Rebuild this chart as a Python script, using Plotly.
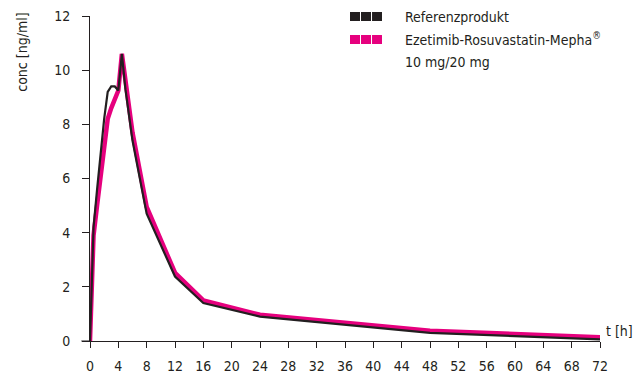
import plotly.graph_objects as go

# Data
t_hours = [0, 0.5, 1, 1.5, 2, 2.5, 3, 3.5, 4, 4.5, 5, 6, 8, 12, 16, 24, 48, 72]
referenz = [0, 4.2, 5.6, 6.9, 8.2, 9.2, 9.4, 9.4, 9.25, 10.6, 9.3, 7.4, 4.7, 2.38, 1.4, 0.9, 0.3, 0.06]
mepha = [0, 3.9, 5.0, 6.1, 7.4, 8.2, 8.6, 8.95, 9.25, 10.6, 9.6, 7.7, 4.95, 2.52, 1.5, 0.97, 0.38, 0.14]
x_ticks = list(range(0, 73, 4))
y_ticks = list(range(0, 13, 2))
series_names = ["Referenzprodukt", "Ezetimib-Rosuvastatin-Mepha<sup>®</sup>"]
series_sub = "10 mg/20 mg"

BLACK = "#231F20"
MAGENTA = "#E6007E"
FONT = "Liberation Sans Narrow, Arial Narrow, DejaVu Sans Condensed, sans-serif"

fig = go.Figure()
fig.add_trace(go.Scatter(x=t_hours, y=mepha, mode="lines",
                         line=dict(color=MAGENTA, width=4.5), showlegend=False))
fig.add_trace(go.Scatter(x=t_hours, y=referenz, mode="lines",
                         line=dict(color=BLACK, width=2.2), showlegend=False))

fig.update_layout(
    width=634, height=374,
    margin=dict(l=90, r=34, t=16, b=33, autoexpand=False),
    paper_bgcolor="white", plot_bgcolor="white",
    font=dict(family=FONT, size=14, color=BLACK),
    xaxis=dict(range=[0, 72], tickvals=x_ticks, showgrid=False, zeroline=False,
               showline=True, linecolor=BLACK, linewidth=1, automargin=False,
               ticks="outside", ticklen=6, tickcolor=BLACK, tickwidth=1,
               ticklabelstandoff=6, ticklabeloverflow="allow"),
    yaxis=dict(range=[0, 12], tickvals=y_ticks, showgrid=False, zeroline=False,
               showline=True, linecolor=BLACK, linewidth=1, automargin=False,
               ticks="outside", ticklen=7, tickcolor=BLACK, tickwidth=1,
               ticklabelstandoff=9, ticklabeloverflow="allow"),
)

# x axis extension to the left of 0
fig.add_shape(type="line", xref="paper", yref="paper", x0=-0.017, x1=0, y0=0, y1=0,
              line=dict(color=BLACK, width=1))

# custom legend swatches (three segments each)
seg_edges = [0.5098, 0.5314, 0.5530, 0.5745]
for (y0, y1, col) in [(0.9846, 1.0123, BLACK), (0.9138, 0.9415, MAGENTA)]:
    for i in range(3):
        fig.add_shape(type="rect", xref="paper", yref="paper",
                      x0=seg_edges[i], x1=seg_edges[i + 1] - 0.002, y0=y0, y1=y1,
                      line=dict(width=0), fillcolor=col)

fig.add_annotation(xref="paper", yref="paper", x=0.6137, y=0.998, text=series_names[0],
                   showarrow=False, xanchor="left", yanchor="middle", font=dict(size=14))
fig.add_annotation(xref="paper", yref="paper", x=0.6137, y=0.928, text=series_names[1],
                   showarrow=False, xanchor="left", yanchor="middle", font=dict(size=14))
fig.add_annotation(xref="paper", yref="paper", x=0.6137, y=0.860, text=series_sub,
                   showarrow=False, xanchor="left", yanchor="middle", font=dict(size=14))

# axis titles
fig.add_annotation(xref="paper", yref="paper", x=1.008, y=0.031, text="t [h]",
                   showarrow=False, xanchor="left", yanchor="middle", font=dict(size=14))
fig.add_annotation(xref="paper", yref="paper", x=-0.135, y=1.015, text="conc [ng/ml]",
                   showarrow=False, xanchor="center", yanchor="top", textangle=-90,
                   font=dict(size=14))

fig.write_html("out.html", config={"displayModeBar": False},
               post_script="document.body.style.margin='0';document.body.style.overflow='hidden';")
